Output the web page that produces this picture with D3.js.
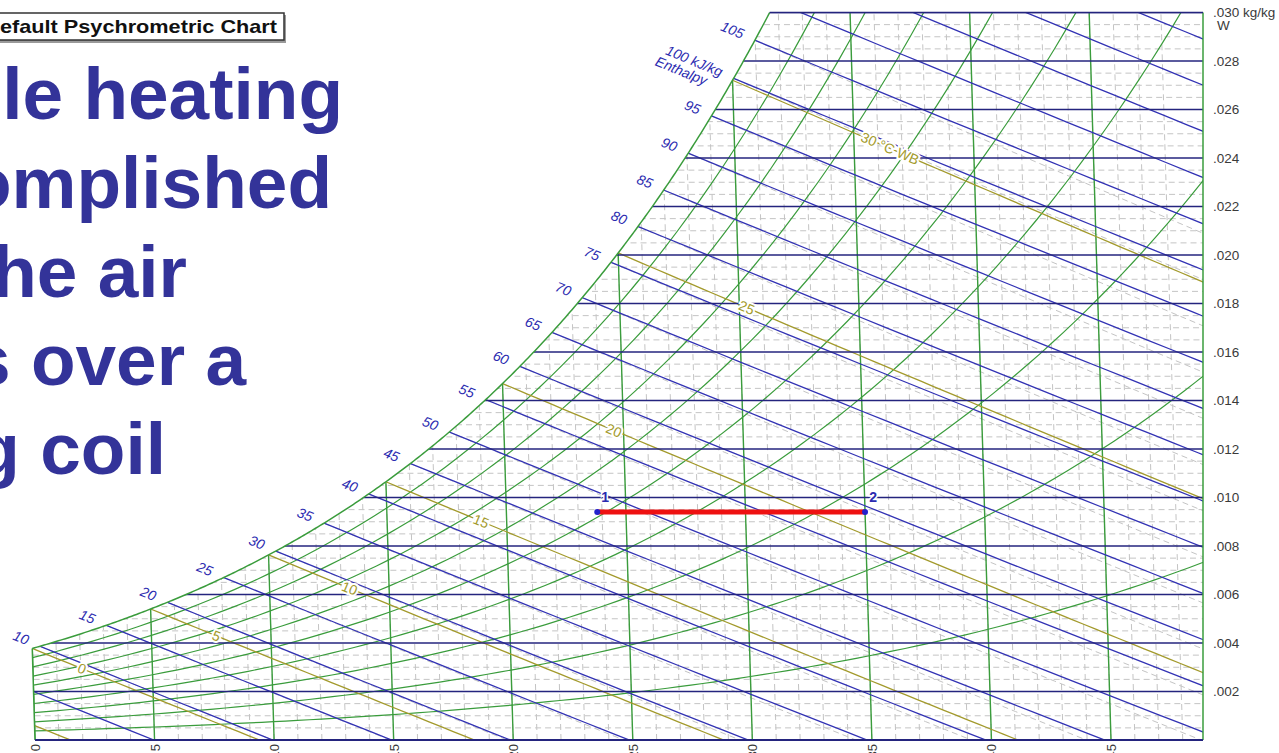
<!DOCTYPE html>
<html><head><meta charset="utf-8">
<script src="https://cdn.jsdelivr.net/npm/d3@7"></script>
<style>
  html,body{margin:0;padding:0;background:#fff;overflow:hidden}
  svg{display:block}
</style>
</head><body>
<svg id="chart" width="1279" height="753"></svg>
<script>
// ---- data -------------------------------------------------------------
// Saturation vapour pressure over water (kPa) at whole degrees C
const satTemps = [-5,-4,-3,-2,-1,0,1,2,3,4,5,6,7,8,9,10,11,12,13,14,15,16,17,18,19,20,
  21,22,23,24,25,26,27,28,29,30,31,32,33,34,35,36,37,38,39,40,41,42,43,44,45,46,47,48,49,50];
const satPressure = [0.4215,0.4547,0.4900,0.5277,0.5678,0.6112,0.6571,0.7060,0.7581,0.8135,
  0.8726,0.9354,1.0021,1.0730,1.1482,1.2282,1.3129,1.4028,1.4981,1.5989,1.7057,1.8188,1.9383,
  2.0647,2.1982,2.3392,2.4881,2.6452,2.8109,2.9856,3.1697,3.3637,3.5679,3.7828,4.0089,4.2467,
  4.4966,4.7592,5.0351,5.3247,5.6286,5.9475,6.2818,6.6324,6.9997,7.3844,7.7873,8.2090,8.6503,
  9.1118,9.5944,10.0988,10.6259,11.1764,11.7512,12.3513];

const dryBulbTicks = [0,5,10,15,20,25,30,35,40,45];
const dryBulbMinor = [0,1,2,3,4,5,6,7,8,9,10,11,12,13,14,15,16,17,18,19,20,21,22,23,24,25,
  26,27,28,29,30,31,32,33,34,35,36,37,38,39,40,41,42,43,44,45,46,47,48];
const humidityTicks = [0.002,0.004,0.006,0.008,0.010,0.012,0.014,0.016,0.018,0.020,
  0.022,0.024,0.026,0.028,0.030];
const humidityMinor = [0.0005,0.001,0.0015,0.0025,0.003,0.0035,0.0045,0.005,0.0055,0.0065,
  0.007,0.0075,0.0085,0.009,0.0095,0.0105,0.011,0.0115,0.0125,0.013,0.0135,0.0145,0.015,
  0.0155,0.0165,0.017,0.0175,0.0185,0.019,0.0195,0.0205,0.021,0.0215,0.0225,0.023,0.0235,
  0.0245,0.025,0.0255,0.0265,0.027,0.0275,0.0285,0.029,0.0295];
const enthalpyLevels = [5,10,15,20,25,30,35,40,45,50,55,60,65,70,75,80,85,90,95,100,105,
  110,115,120,125];
const enthalpyLabelled = [10,15,20,25,30,35,40,45,50,55,60,65,70,75,80,85,90,95,100,105];
const wetBulbLevels = [-5,0,5,10,15,20,25,30];
const wetBulbLabelled = [0,5,10,15,20,25,30];
const rhLevels = [10,20,30,40,50,60,70,80,90];
const processPoints = [
  {id: "1", t: 23.8, W: 0.0094},
  {id: "2", t: 35.0, W: 0.0094}
];
const headingLines = ["le heating", "omplished", "he air", "s over a", "g coil"];
const titleText = "efault Psychrometric Chart";

// ---- psychrometric relations (sea-level pressure) ---------------------
const P = 101.325;
function pws(t) {
  const i = Math.max(0, Math.min(satTemps.length - 2, Math.floor(t - satTemps[0])));
  const f = t - satTemps[i];
  const a = Math.log(satPressure[i]), b = Math.log(satPressure[i + 1]);
  return Math.exp(a + (b - a) * f);
}
const wFromP = p => 0.621945 * p / (P - p);
const Wsat = t => wFromP(pws(t));
const enthalpy = (t, W) => 1.006 * t + W * (2501 + 1.86 * t);
const wAtEnthalpy = (h, t) => (h - 1.006 * t) / (2501 + 1.86 * t);
const wAtWetBulb = (twb, t) =>
  ((2501 - 2.326 * twb) * Wsat(twb) - 1.006 * (t - twb)) / (2501 + 1.86 * t - 4.186 * twb);
const wAtRH = (rh, t) => wFromP(rh / 100 * pws(t));
function solve(fn, target, lo, hi) {
  for (let k = 0; k < 60; k++) {
    const mid = (lo + hi) / 2;
    if (fn(mid) < target) lo = mid; else hi = mid;
  }
  return (lo + hi) / 2;
}
const tSatForH = h => solve(t => enthalpy(t, Wsat(t)), h, -5, 50);

// ---- scales --------------------------------------------------------------
const W_MAX = 0.030;
const xs = d3.scaleLinear().domain([0, 45]).range([35, 1111]);
const ys = d3.scaleLinear().domain([0, W_MAX]).range([740, 12.5]);
const SKEW = 0.03;            // dry-bulb lines lean slightly left as W rises
const X_RIGHT = 1203;
const px = (t, W) => xs(t) - SKEW * (ys(0) - ys(W));
const line = d3.line().x(d => px(d[0], d[1])).y(d => ys(d[1]));
const tTop = solve(Wsat, W_MAX, 0, 50);

const C = {
  navy: "#24247e", blue: "#3232b4", green: "#3a9c3c", olive: "#a39a2c",
  grid: "#c4c4c4", label: "#2b2bb0", heading: "#333399"
};

const svg = d3.select("#chart");

// chart area: below the saturation curve, inside the frame
const satPts = d3.range(0, tTop, 0.1).concat([tTop]).map(t => [t, Wsat(t)]);
const regionPts = satPts.map(d => [px(d[0], d[1]), ys(d[1])])
  .concat([[X_RIGHT, ys(W_MAX)], [X_RIGHT, ys(0)], [px(0, 0), ys(0)]]);
svg.append("defs").append("clipPath").attr("id", "area")
  .append("path").attr("d", "M" + regionPts.map(p => p.join(",")).join("L") + "Z");

const g = svg.append("g").attr("clip-path", "url(#area)");

// minor grid
g.append("g").selectAll("path").data(dryBulbMinor).join("path")
  .attr("d", t => line([[t, 0], [t, W_MAX + 0.001]]))
  .attr("fill", "none").attr("stroke", C.grid).attr("stroke-width", 1)
  .attr("stroke-dasharray", "6,4");
g.append("g").selectAll("path").data(humidityMinor).join("path")
  .attr("d", W => line([[-5, W], [60, W]]))
  .attr("fill", "none").attr("stroke", C.grid).attr("stroke-width", 1)
  .attr("stroke-dasharray", "6,4");

// light dashed wet-bulb companions from each enthalpy point on saturation
const companion = enthalpyLevels.map(tSatForH).filter(t => t >= 0 && t <= tTop);
g.append("g").selectAll("path").data(companion).join("path")
  .attr("d", twb => line(d3.range(twb, 56, 1).map(t => [t, wAtWetBulb(twb, t)])))
  .attr("fill", "none").attr("stroke", C.grid).attr("stroke-width", 1)
  .attr("stroke-dasharray", "6,4");

// relative humidity curves
g.append("g").selectAll("path").data(rhLevels).join("path")
  .attr("d", rh => line(d3.range(-1, 52, 0.5).map(t => [t, wAtRH(rh, t)])))
  .attr("fill", "none").attr("stroke", C.green).attr("stroke-width", 1.2);

// dry-bulb lines
g.append("g").selectAll("path").data(dryBulbTicks).join("path")
  .attr("d", t => line([[t, 0], [t, W_MAX + 0.001]]))
  .attr("fill", "none").attr("stroke", C.green).attr("stroke-width", 1.4);

// wet-bulb lines
g.append("g").selectAll("path").data(wetBulbLevels).join("path")
  .attr("d", twb => line(d3.range(twb, 56, 0.5).map(t => [t, wAtWetBulb(twb, t)])))
  .attr("fill", "none").attr("stroke", C.olive).attr("stroke-width", 1.3);

// enthalpy lines
g.append("g").selectAll("path").data(enthalpyLevels).join("path")
  .attr("d", h => line(d3.range(-8, 56, 1).map(t => [t, wAtEnthalpy(h, t)])))
  .attr("fill", "none").attr("stroke", C.blue).attr("stroke-width", 1.3);

// humidity ratio lines
g.append("g").selectAll("path").data(humidityTicks).join("path")
  .attr("d", W => line([[-5, W], [60, W]]))
  .attr("fill", "none").attr("stroke", C.navy).attr("stroke-width", 1.5);

// frame: saturation curve, 0 C edge, right edge, bottom and top
svg.append("path").attr("d", line(satPts))
  .attr("fill", "none").attr("stroke", C.green).attr("stroke-width", 1.5);
svg.append("path").attr("d", line([[0, 0], [0, Wsat(0)]]))
  .attr("fill", "none").attr("stroke", C.green).attr("stroke-width", 1.5);
svg.append("line").attr("x1", X_RIGHT).attr("x2", X_RIGHT).attr("y1", ys(W_MAX)).attr("y2", ys(0))
  .attr("stroke", C.green).attr("stroke-width", 1.5);
svg.append("line").attr("x1", px(0, 0)).attr("x2", X_RIGHT).attr("y1", ys(0)).attr("y2", ys(0))
  .attr("stroke", C.navy).attr("stroke-width", 1.8);
svg.append("line").attr("x1", px(tTop, W_MAX)).attr("x2", X_RIGHT).attr("y1", ys(W_MAX)).attr("y2", ys(W_MAX))
  .attr("stroke", C.navy).attr("stroke-width", 1.5);

const FONT = "'Liberation Sans', Arial, sans-serif";
const angleOf = (p0, p1) => Math.atan2(p1[1] - p0[1], p1[0] - p0[0]) * 180 / Math.PI;

// enthalpy labels at the saturation curve
enthalpyLabelled.forEach(h => {
  const t0 = tSatForH(h), W0 = Wsat(t0);
  if (W0 > W_MAX) return;
  const a = [px(t0, W0), ys(W0)];
  const b = [px(t0 + 1, wAtEnthalpy(h, t0 + 1)), ys(wAtEnthalpy(h, t0 + 1))];
  const ang = angleOf(a, b);
  const lg = svg.append("g").attr("transform", `translate(${a[0]},${a[1]}) rotate(${ang})`)
    .attr("font-family", FONT).attr("font-style", "italic").attr("font-size", 14)
    .attr("fill", C.label).attr("text-anchor", "end");
  lg.append("text").attr("x", -13).attr("y", 4).text(h === 100 ? "100 kJ/kg" : h);
  if (h === 100) lg.append("text").attr("x", -24).attr("y", 18).text("Enthalpy");
});

// wet-bulb labels along their lines
const wbRun = {0: 2.05, 5: 2.72, 10: 3.35, 15: 3.93, 20: 4.6, 25: 5.3, 30: 6.5};
wetBulbLabelled.forEach(twb => {
  const t = twb + wbRun[twb];
  const a = [px(t, wAtWetBulb(twb, t)), ys(wAtWetBulb(twb, t))];
  const b = [px(t + 1, wAtWetBulb(twb, t + 1)), ys(wAtWetBulb(twb, t + 1))];
  svg.append("text")
    .attr("transform", `translate(${a[0]},${a[1]}) rotate(${angleOf(a, b)})`)
    .attr("text-anchor", "middle").attr("dy", "0.35em")
    .attr("font-family", FONT).attr("font-size", 14).attr("fill", C.olive)
    .attr("stroke", "#fff").attr("stroke-width", 4).attr("paint-order", "stroke")
    .text(twb === 30 ? "30 °C WB" : twb);
});

// humidity ratio axis on the right
const rightAxis = svg.append("g").attr("font-family", FONT).attr("font-size", 13.5).attr("fill", "#3a3a3a");
rightAxis.selectAll("text").data(humidityTicks).join("text")
  .attr("x", 1213).attr("y", W => ys(W) + 4.5)
  .text(W => d3.format(".3f")(W).slice(1) + (W === W_MAX ? " kg/kg" : ""));
rightAxis.append("text").attr("x", 1217).attr("y", ys(W_MAX) + 17).text("W");

// dry-bulb labels along the bottom, turned on their side
svg.append("g").attr("font-family", FONT).attr("font-size", 13).attr("fill", "#3a3a3a")
  .selectAll("text").data(dryBulbTicks).join("text")
  .attr("transform", t => `translate(${px(t, 0) + 5},${ys(0) + 4}) rotate(-90)`)
  .attr("text-anchor", "end").text(t => t);

// process 1 -> 2
const proc = svg.append("g");
proc.append("path").attr("d", line(processPoints.map(d => [d.t, d.W])))
  .attr("stroke", "#ee1111").attr("stroke-width", 5).attr("fill", "none");
proc.selectAll("circle").data(processPoints).join("circle")
  .attr("cx", d => px(d.t, d.W)).attr("cy", d => ys(d.W)).attr("r", 3).attr("fill", "#2222cc");
proc.selectAll("text").data(processPoints).join("text")
  .attr("x", d => px(d.t, d.W) + 8).attr("y", d => ys(d.W) - 10)
  .attr("text-anchor", "middle").attr("font-family", FONT).attr("font-weight", "bold")
  .attr("font-size", 14).attr("fill", C.label)
  .attr("stroke", "#fff").attr("stroke-width", 3).attr("paint-order", "stroke")
  .text(d => d.id);

// slide heading
const heading = svg.append("g").attr("font-family", FONT).attr("font-weight", "bold")
  .attr("font-size", 73).attr("fill", C.heading).attr("text-anchor", "end");
const headingEnds = [343, 332, 187, 246, 166];
heading.selectAll("text").data(headingLines).join("text")
  .attr("x", (d, i) => headingEnds[i]).attr("y", (d, i) => 119 + i * 88.75)
  .text(d => d);

// title box
svg.append("rect").attr("x", -10).attr("y", 15).attr("width", 296).attr("height", 28).attr("fill", "#9a9a9a");
svg.append("rect").attr("x", -12).attr("y", 13).attr("width", 296).attr("height", 27)
  .attr("fill", "#fff").attr("stroke", "#333").attr("stroke-width", 1.5);
svg.append("text").attr("x", 0).attr("y", 33).attr("font-family", FONT).attr("font-weight", "bold")
  .attr("font-size", 19).attr("fill", "#111").attr("textLength", 277).attr("lengthAdjust", "spacingAndGlyphs")
  .text(titleText);
</script>
</body></html>
